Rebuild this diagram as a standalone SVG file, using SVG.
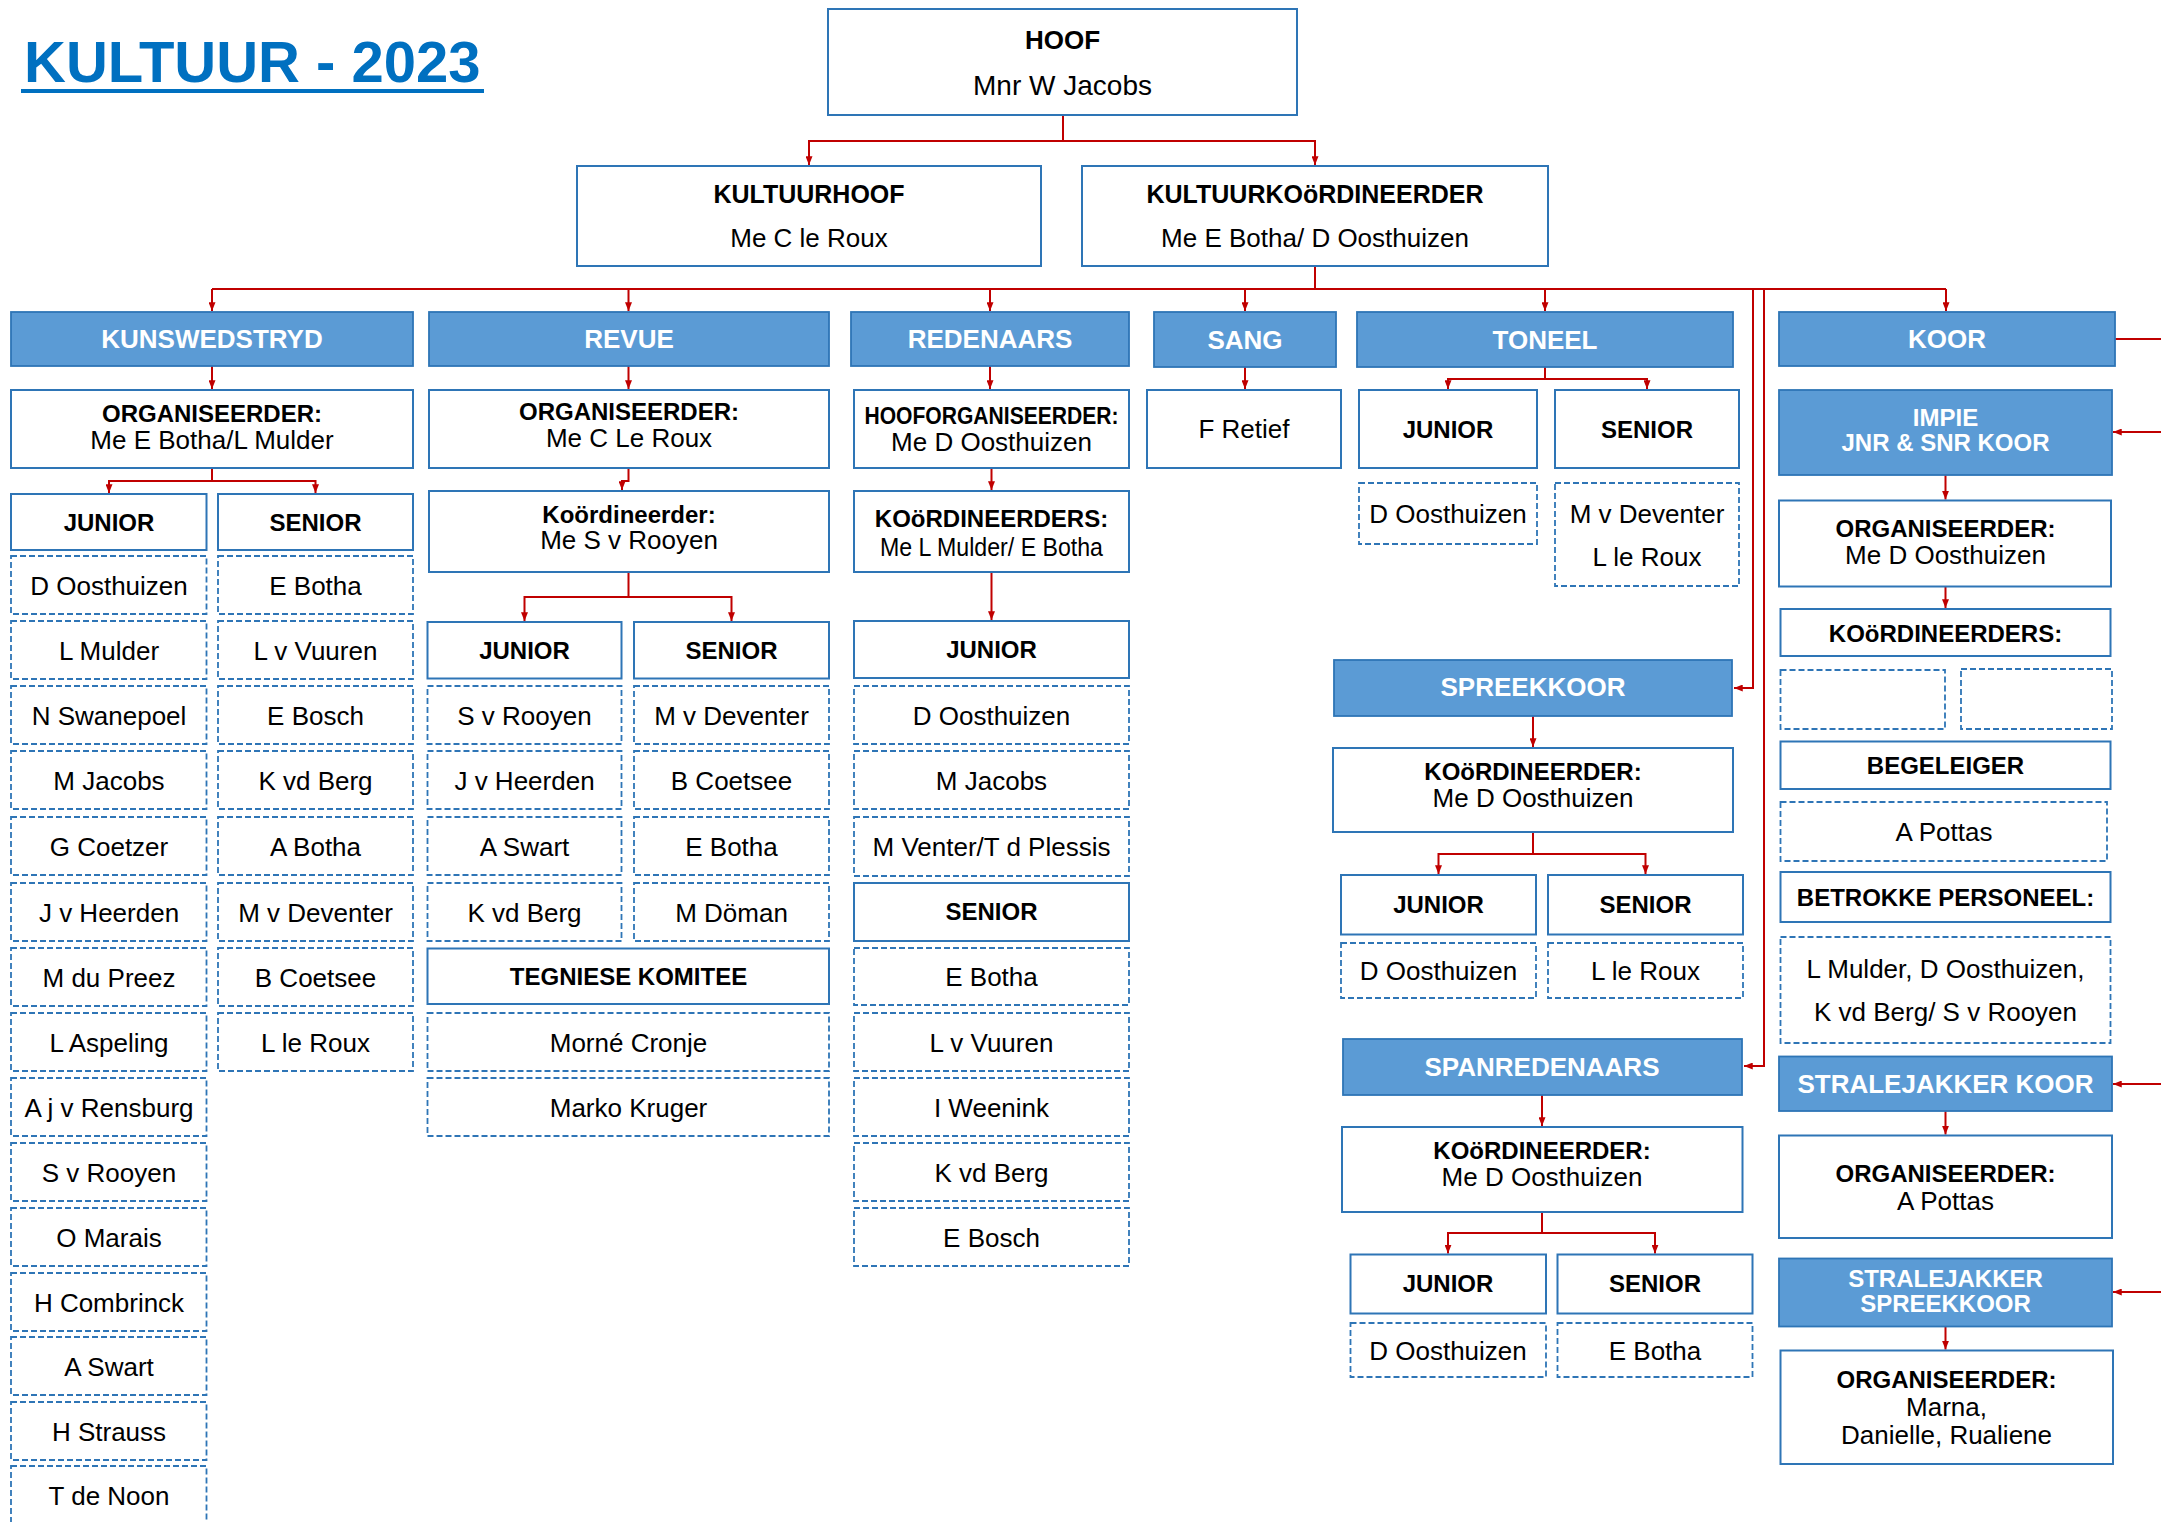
<svg xmlns="http://www.w3.org/2000/svg" width="2161" height="1522" viewBox="0 0 2161 1522">
<style>
.h rect{fill:#5B9BD5;stroke:#2E75B6;stroke-width:1.8}
.s{fill:#fff;stroke:#2E75B6;stroke-width:2}
.d{fill:#fff;stroke:#2E75B6;stroke-width:1.8;stroke-dasharray:6 3}
text{font-family:"Liberation Sans",Arial,sans-serif;text-anchor:middle;fill:#000}
.n{font-size:26px}
.b{font-size:24px;font-weight:bold}
.h text{font-size:26px;font-weight:bold;fill:#fff}
.h text.sm{font-size:24px}
.c path{fill:none;stroke:#C00000;stroke-width:2}
.c path.a{marker-end:url(#ar)}
</style>
<defs>
<marker id="ar" markerUnits="userSpaceOnUse" viewBox="0 0 10 8" refX="10" refY="4" markerWidth="9" markerHeight="7" orient="auto">
<path d="M0,0 L10,4 L0,8 z" fill="#C00000"/>
</marker>
</defs>
<rect width="2161" height="1522" fill="#fff"/>
<g id="title">
<text x="24" y="82" style="font-size:58px;font-weight:bold;fill:#0070C0;text-anchor:start">KULTUUR - 2023</text>
<line x1="21" y1="91" x2="484" y2="91" stroke="#0070C0" stroke-width="4"/>
</g>
<g class="c" id="connectors">
<path class="a" d="M1063,115 V141 H809 V165"/>
<path class="a" d="M1063,141 H1315 V165"/>
<path d="M1315,266 V289 M212,289 H1946"/>
<path class="a" d="M212,289 V311"/>
<path class="a" d="M628.5,289 V311"/>
<path class="a" d="M990,289 V311"/>
<path class="a" d="M1245,289 V311"/>
<path class="a" d="M1545,289 V311"/>
<path class="a" d="M1946,289 V311"/>
<path class="a" d="M1753,289 V688 H1734"/>
<path class="a" d="M1764,289 V1066 H1744"/>
<path d="M2115,339 H2180 V1292"/>
<path class="a" d="M2180,432 H2113"/>
<path class="a" d="M2180,1084 H2113"/>
<path class="a" d="M2180,1292 H2113"/>
<path class="a" d="M212,366 V389"/>
<path class="a" d="M212,468 V481 H109 V493"/>
<path class="a" d="M212,481 H315.5 V493"/>
<path class="a" d="M628.5,366 V389"/>
<path class="a" d="M628.5,468 V481 H622 V490"/>
<path class="a" d="M628.5,572 V597 H524.5 V621"/>
<path class="a" d="M628.5,597 H731.5 V621"/>
<path class="a" d="M990,366 V389"/>
<path class="a" d="M991.5,468 V490"/>
<path class="a" d="M991.5,572 V620"/>
<path class="a" d="M1245,367 V389"/>
<path class="a" d="M1545,367 V379 H1448 V389"/>
<path class="a" d="M1545,379 H1647 V389"/>
<path class="a" d="M1533,716 V747"/>
<path class="a" d="M1533,832 V854 H1438.5 V874"/>
<path class="a" d="M1533,854 H1645.5 V874"/>
<path class="a" d="M1542,1095 V1126"/>
<path class="a" d="M1542,1212 V1233 H1448 V1253.5"/>
<path class="a" d="M1542,1233 H1655 V1253.5"/>
<path class="a" d="M1945.5,475 V499.5"/>
<path class="a" d="M1945.5,586.5 V608"/>
<path class="a" d="M1945.5,1111 V1134.5"/>
<path class="a" d="M1945.5,1326.5 V1349.5"/>
</g>
<g id="hoof"><rect class="s" x="828" y="9" width="469" height="106"/><text class="b" x="1062.5" y="49" style="font-size:26px">HOOF</text><text class="n" x="1062.5" y="95" style="font-size:28px">Mnr W Jacobs</text></g>
<g id="kultuurhoof"><rect class="s" x="577" y="166" width="464" height="100"/><text class="b" x="809" y="203" style="font-size:25px">KULTUURHOOF</text><text class="n" x="809" y="247">Me C le Roux</text></g>
<g id="kultuurkoord"><rect class="s" x="1082" y="166" width="466" height="100"/><text class="b" x="1315" y="203" style="font-size:25px">KULTUURKOöRDINEERDER</text><text class="n" x="1315" y="247">Me E Botha/ D Oosthuizen</text></g>

<g id="kunswedstryd" class="h"><rect x="11" y="312" width="402" height="54"/><text x="212" y="348">KUNSWEDSTRYD</text></g>
<g id="revue" class="h"><rect x="429" y="312" width="400" height="54"/><text x="629" y="348">REVUE</text></g>
<g id="redenaars" class="h"><rect x="851" y="312" width="278" height="54"/><text x="990" y="348">REDENAARS</text></g>
<g id="sang" class="h"><rect x="1154" y="312" width="182" height="55"/><text x="1245" y="349">SANG</text></g>
<g id="toneel" class="h"><rect x="1357" y="312" width="376" height="55"/><text x="1545" y="349">TONEEL</text></g>
<g id="koor" class="h"><rect x="1779" y="312" width="336" height="54"/><text x="1947" y="348">KOOR</text></g>

<g id="kuns-org"><rect class="s" x="11" y="390" width="402" height="78"/><text class="b" x="212" y="422">ORGANISEERDER:</text><text class="n" x="212" y="449">Me E Botha/L Mulder</text></g>
<g id="kuns-jun"><rect class="s" x="11" y="494" width="195.5" height="56"/><text class="b" x="109" y="531">JUNIOR</text></g>
<g id="kuns-sen"><rect class="s" x="218" y="494" width="195" height="56"/><text class="b" x="315.5" y="531">SENIOR</text></g>
<g id="kj1"><rect class="d" x="11" y="556" width="195.5" height="58"/><text class="n" x="109" y="595">D Oosthuizen</text></g>
<g id="kj2"><rect class="d" x="11" y="621" width="195.5" height="58"/><text class="n" x="109" y="660">L Mulder</text></g>
<g id="kj3"><rect class="d" x="11" y="686" width="195.5" height="58"/><text class="n" x="109" y="725">N Swanepoel</text></g>
<g id="kj4"><rect class="d" x="11" y="751" width="195.5" height="58"/><text class="n" x="109" y="790">M Jacobs</text></g>
<g id="kj5"><rect class="d" x="11" y="817" width="195.5" height="58"/><text class="n" x="109" y="856">G Coetzer</text></g>
<g id="kj6"><rect class="d" x="11" y="883" width="195.5" height="58"/><text class="n" x="109" y="922">J v Heerden</text></g>
<g id="kj7"><rect class="d" x="11" y="948" width="195.5" height="58"/><text class="n" x="109" y="987">M du Preez</text></g>
<g id="kj8"><rect class="d" x="11" y="1013" width="195.5" height="58"/><text class="n" x="109" y="1052">L Aspeling</text></g>
<g id="kj9"><rect class="d" x="11" y="1078" width="195.5" height="58"/><text class="n" x="109" y="1117">A j v Rensburg</text></g>
<g id="kj10"><rect class="d" x="11" y="1143" width="195.5" height="58"/><text class="n" x="109" y="1182">S v Rooyen</text></g>
<g id="kj11"><rect class="d" x="11" y="1208" width="195.5" height="58"/><text class="n" x="109" y="1247">O Marais</text></g>
<g id="kj12"><rect class="d" x="11" y="1273" width="195.5" height="58"/><text class="n" x="109" y="1312">H Combrinck</text></g>
<g id="kj13"><rect class="d" x="11" y="1337" width="195.5" height="58"/><text class="n" x="109" y="1376">A Swart</text></g>
<g id="kj14"><rect class="d" x="11" y="1402" width="195.5" height="58"/><text class="n" x="109" y="1441">H Strauss</text></g>
<g id="kj15"><rect class="d" x="11" y="1466" width="195.5" height="58"/><text class="n" x="109" y="1505">T de Noon</text></g>
<g id="ks1"><rect class="d" x="218" y="556" width="195" height="58"/><text class="n" x="315.5" y="595">E Botha</text></g>
<g id="ks2"><rect class="d" x="218" y="621" width="195" height="58"/><text class="n" x="315.5" y="660">L v Vuuren</text></g>
<g id="ks3"><rect class="d" x="218" y="686" width="195" height="58"/><text class="n" x="315.5" y="725">E Bosch</text></g>
<g id="ks4"><rect class="d" x="218" y="751" width="195" height="58"/><text class="n" x="315.5" y="790">K vd Berg</text></g>
<g id="ks5"><rect class="d" x="218" y="817" width="195" height="58"/><text class="n" x="315.5" y="856">A Botha</text></g>
<g id="ks6"><rect class="d" x="218" y="883" width="195" height="58"/><text class="n" x="315.5" y="922">M v Deventer</text></g>
<g id="ks7"><rect class="d" x="218" y="948" width="195" height="58"/><text class="n" x="315.5" y="987">B Coetsee</text></g>
<g id="ks8"><rect class="d" x="218" y="1013" width="195" height="58"/><text class="n" x="315.5" y="1052">L le Roux</text></g>

<g id="revue-org"><rect class="s" x="429" y="390" width="400" height="78"/><text class="b" x="629" y="420">ORGANISEERDER:</text><text class="n" x="629" y="447">Me C Le Roux</text></g>
<g id="revue-koord"><rect class="s" x="429" y="491" width="400" height="81"/><text class="b" x="629" y="523">Koördineerder:</text><text class="n" x="629" y="549">Me S v Rooyen</text></g>
<g id="revue-jun"><rect class="s" x="427.5" y="622" width="194" height="56.5"/><text class="b" x="524.5" y="659">JUNIOR</text></g>
<g id="revue-sen"><rect class="s" x="634" y="622" width="195" height="56.5"/><text class="b" x="731.5" y="659">SENIOR</text></g>
<g id="rj1"><rect class="d" x="427.5" y="686" width="194" height="58"/><text class="n" x="524.5" y="725">S v Rooyen</text></g>
<g id="rj2"><rect class="d" x="427.5" y="751" width="194" height="58"/><text class="n" x="524.5" y="790">J v Heerden</text></g>
<g id="rj3"><rect class="d" x="427.5" y="817" width="194" height="58"/><text class="n" x="524.5" y="856">A Swart</text></g>
<g id="rj4"><rect class="d" x="427.5" y="883" width="194" height="58"/><text class="n" x="524.5" y="922">K vd Berg</text></g>
<g id="rs1"><rect class="d" x="634" y="686" width="195" height="58"/><text class="n" x="731.5" y="725">M v Deventer</text></g>
<g id="rs2"><rect class="d" x="634" y="751" width="195" height="58"/><text class="n" x="731.5" y="790">B Coetsee</text></g>
<g id="rs3"><rect class="d" x="634" y="817" width="195" height="58"/><text class="n" x="731.5" y="856">E Botha</text></g>
<g id="rs4"><rect class="d" x="634" y="883" width="195" height="58"/><text class="n" x="731.5" y="922">M Döman</text></g>
<g id="tegniese"><rect class="s" x="427.5" y="948.5" width="401.5" height="55.5"/><text class="b" x="628.5" y="985">TEGNIESE KOMITEE</text></g>
<g id="tk1"><rect class="d" x="427.5" y="1013" width="401.5" height="58"/><text class="n" x="628.5" y="1052">Morné Cronje</text></g>
<g id="tk2"><rect class="d" x="427.5" y="1078" width="401.5" height="58"/><text class="n" x="628.5" y="1117">Marko Kruger</text></g>

<g id="red-hoof"><rect class="s" x="854" y="390" width="275" height="78"/><text class="b" x="991.5" y="424" textLength="254" lengthAdjust="spacingAndGlyphs">HOOFORGANISEERDER:</text><text class="n" x="991.5" y="451">Me D Oosthuizen</text></g>
<g id="red-koord"><rect class="s" x="854" y="491" width="275" height="81"/><text class="b" x="991.5" y="527">KOöRDINEERDERS:</text><text class="n" x="991.5" y="556" textLength="223" lengthAdjust="spacingAndGlyphs">Me L Mulder/ E Botha</text></g>
<g id="red-jun"><rect class="s" x="854" y="621" width="275" height="57"/><text class="b" x="991.5" y="658">JUNIOR</text></g>
<g id="dj1"><rect class="d" x="854" y="686" width="275" height="58"/><text class="n" x="991.5" y="725">D Oosthuizen</text></g>
<g id="dj2"><rect class="d" x="854" y="751" width="275" height="58"/><text class="n" x="991.5" y="790">M Jacobs</text></g>
<g id="dj3"><rect class="d" x="854" y="817" width="275" height="59"/><text class="n" x="991.5" y="856">M Venter/T d Plessis</text></g>
<g id="red-sen"><rect class="s" x="854" y="883" width="275" height="58"/><text class="b" x="991.5" y="920">SENIOR</text></g>
<g id="ds1"><rect class="d" x="854" y="948" width="275" height="57"/><text class="n" x="991.5" y="986">E Botha</text></g>
<g id="ds2"><rect class="d" x="854" y="1013" width="275" height="58"/><text class="n" x="991.5" y="1052">L v Vuuren</text></g>
<g id="ds3"><rect class="d" x="854" y="1078" width="275" height="58"/><text class="n" x="991.5" y="1117">I Weenink</text></g>
<g id="ds4"><rect class="d" x="854" y="1143" width="275" height="58"/><text class="n" x="991.5" y="1182">K vd Berg</text></g>
<g id="ds5"><rect class="d" x="854" y="1208" width="275" height="58"/><text class="n" x="991.5" y="1247">E Bosch</text></g>

<g id="sang-retief"><rect class="s" x="1147" y="390" width="194" height="78"/><text class="n" x="1244" y="438">F Retief</text></g>

<g id="toneel-jun"><rect class="s" x="1359" y="390" width="178" height="78"/><text class="b" x="1448" y="438">JUNIOR</text></g>
<g id="toneel-sen"><rect class="s" x="1555" y="390" width="184" height="78"/><text class="b" x="1647" y="438">SENIOR</text></g>
<g id="tj1"><rect class="d" x="1359" y="483" width="178" height="61"/><text class="n" x="1448" y="523">D Oosthuizen</text></g>
<g id="ts1"><rect class="d" x="1555" y="483" width="184" height="103"/><text class="n" x="1647" y="523">M v Deventer</text><text class="n" x="1647" y="566">L le Roux</text></g>

<g id="spreekkoor" class="h"><rect x="1334" y="660" width="398" height="56"/><text x="1533" y="696">SPREEKKOOR</text></g>
<g id="sk-koord"><rect class="s" x="1333" y="748" width="400" height="84"/><text class="b" x="1533" y="780">KOöRDINEERDER:</text><text class="n" x="1533" y="807">Me D Oosthuizen</text></g>
<g id="sk-jun"><rect class="s" x="1341" y="875" width="195" height="59.5"/><text class="b" x="1438.5" y="913">JUNIOR</text></g>
<g id="sk-sen"><rect class="s" x="1548" y="875" width="195" height="59.5"/><text class="b" x="1645.5" y="913">SENIOR</text></g>
<g id="skj1"><rect class="d" x="1341" y="943" width="195" height="55"/><text class="n" x="1438.5" y="980">D Oosthuizen</text></g>
<g id="sks1"><rect class="d" x="1548" y="943" width="195" height="55"/><text class="n" x="1645.5" y="980">L le Roux</text></g>

<g id="spanredenaars" class="h"><rect x="1343" y="1039" width="399" height="56"/><text x="1542" y="1076">SPANREDENAARS</text></g>
<g id="sp-koord"><rect class="s" x="1342" y="1127" width="400.5" height="85"/><text class="b" x="1542" y="1159">KOöRDINEERDER:</text><text class="n" x="1542" y="1186">Me D Oosthuizen</text></g>
<g id="sp-jun"><rect class="s" x="1350.5" y="1254.5" width="195.5" height="59"/><text class="b" x="1448" y="1292">JUNIOR</text></g>
<g id="sp-sen"><rect class="s" x="1557.5" y="1254.5" width="195" height="59"/><text class="b" x="1655" y="1292">SENIOR</text></g>
<g id="spj1"><rect class="d" x="1350.5" y="1323" width="195.5" height="54"/><text class="n" x="1448" y="1360">D Oosthuizen</text></g>
<g id="sps1"><rect class="d" x="1557.5" y="1323" width="195" height="54"/><text class="n" x="1655" y="1360">E Botha</text></g>

<g id="impie" class="h"><rect x="1779" y="390" width="333" height="85"/><text class="sm" x="1945.5" y="426">IMPIE</text><text class="sm" x="1945.5" y="451">JNR &amp; SNR KOOR</text></g>
<g id="impie-org"><rect class="s" x="1779" y="500.5" width="332" height="86"/><text class="b" x="1945.5" y="537">ORGANISEERDER:</text><text class="n" x="1945.5" y="564">Me D Oosthuizen</text></g>
<g id="impie-koord"><rect class="s" x="1780.5" y="609" width="330" height="47"/><text class="b" x="1945.5" y="642">KOöRDINEERDERS:</text></g>
<g id="impie-k1"><rect class="d" x="1780.5" y="670" width="164.5" height="59"/></g>
<g id="impie-k2"><rect class="d" x="1961" y="669" width="151" height="60"/></g>
<g id="begeleiger"><rect class="s" x="1780.5" y="741.5" width="330" height="47.5"/><text class="b" x="1945.5" y="774">BEGELEIGER</text></g>
<g id="beg1"><rect class="d" x="1780.5" y="802" width="326.5" height="59"/><text class="n" x="1944" y="841">A Pottas</text></g>
<g id="betrokke"><rect class="s" x="1780.5" y="872" width="330" height="50"/><text class="b" x="1945.5" y="906">BETROKKE PERSONEEL:</text></g>
<g id="bet1"><rect class="d" x="1780.5" y="937" width="330" height="106"/><text class="n" x="1945.5" y="978">L Mulder, D Oosthuizen,</text><text class="n" x="1945.5" y="1021">K vd Berg/ S v Rooyen</text></g>
<g id="stralejakker-koor" class="h"><rect x="1779" y="1056.5" width="333" height="54.5"/><text x="1945.5" y="1093">STRALEJAKKER KOOR</text></g>
<g id="sjk-org"><rect class="s" x="1779" y="1135.5" width="333" height="102.5"/><text class="b" x="1945.5" y="1182">ORGANISEERDER:</text><text class="n" x="1945.5" y="1210">A Pottas</text></g>
<g id="stralejakker-spreekkoor" class="h"><rect x="1779" y="1258.5" width="333" height="68"/><text class="sm" x="1945.5" y="1287">STRALEJAKKER</text><text class="sm" x="1945.5" y="1312">SPREEKKOOR</text></g>
<g id="sjs-org"><rect class="s" x="1780.5" y="1350.5" width="332.5" height="113.5"/><text class="b" x="1946.5" y="1388">ORGANISEERDER:</text><text class="n" x="1946.5" y="1416">Marna,</text><text class="n" x="1946.5" y="1444">Danielle, Rualiene</text></g>
</svg>
